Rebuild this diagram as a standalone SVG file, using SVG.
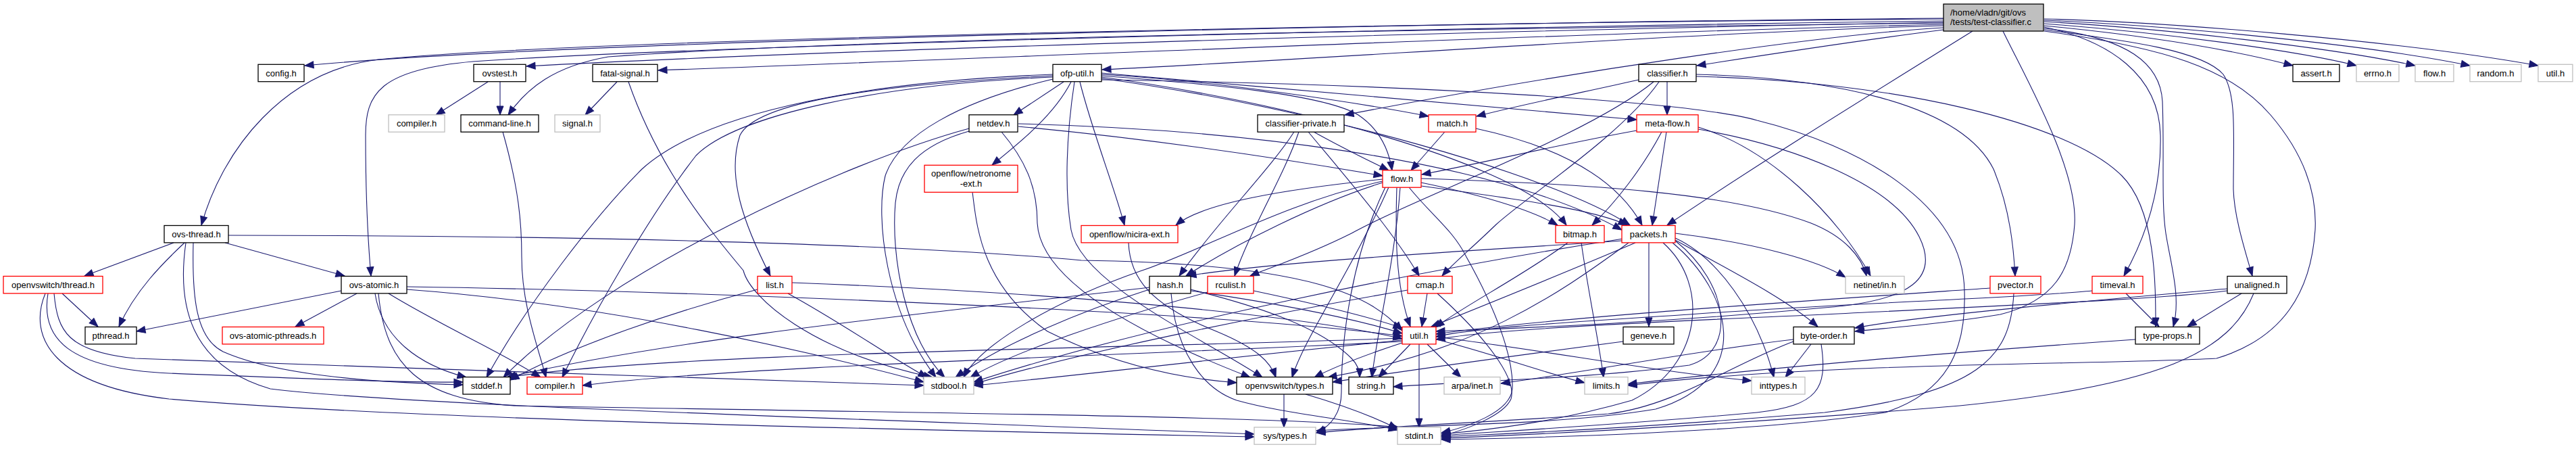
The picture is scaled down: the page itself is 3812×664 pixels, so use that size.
<svg xmlns="http://www.w3.org/2000/svg" width="3812" height="664" viewBox="0 0 3812 664">
<defs>
<style>
.n rect{fill:#fff;stroke-width:1.3}
.b rect{stroke:#000}
.g rect{stroke:#bfbfbf}
.r rect{stroke:#f00}
text{font-family:"Liberation Sans",Arial,Helvetica,sans-serif;font-size:13px;fill:#000;text-anchor:middle}
#edges path{fill:none;stroke:#191970;stroke-width:1.1;marker-end:url(#arr)}
</style>
<marker id="arr" markerUnits="userSpaceOnUse" markerWidth="14" markerHeight="11" refX="13" refY="5.5" orient="auto" overflow="visible"><path d="M0,0.5 L13,5.5 L0,10.5 z" fill="#191970" stroke="#191970" stroke-width="1"/></marker>
</defs>
<rect width="3812" height="664" fill="#fff"/>
<g id="edges">
<path d="M2876,27 C2300,32 900,55 451,97"/>
<path d="M2876,28 C2200,33 900,55 560,88 C420,105 330,220 298,333"/>
<path d="M2876,31 C2000,42 1000,70 700,91 C560,103 541,140 541,200 C541,270 543,340 549,408"/>
<path d="M2876,33 C2200,45 1200,75 779,98"/>
<path d="M2876,34 C2200,42 1300,55 900,84 C820,98 780,130 752,170"/>
<path d="M2876,36 C2300,50 1500,85 974,104"/>
<path d="M2876,38 C2500,48 2000,85 1631,103"/>
<path d="M2876,41 C2700,50 2300,110 1990,170"/>
<path d="M2876,44 C2750,60 2620,80 2511,97"/>
<path d="M2919,46 C2800,120 2620,230 2467,333"/>
<path d="M3025,38 C3200,55 3320,78 3393,97"/>
<path d="M3025,35 C3200,48 3400,75 3487,97"/>
<path d="M3025,32 C3200,42 3450,70 3574,97"/>
<path d="M3025,30 C3200,37 3500,65 3655,97"/>
<path d="M3025,28 C3200,32 3550,60 3756,97"/>
<path d="M3025,42 C3150,55 3197,95 3200,150 C3203,230 3198,300 3205,345 C3212,390 3228,440 3216,483"/>
<path d="M3025,44 C3150,60 3260,75 3290,110 C3310,140 3305,200 3305,280 C3306,320 3322,370 3333,408"/>
<path d="M3025,46 C3200,70 3300,100 3360,170 C3420,240 3428,300 3426,340 C3420,430 3380,500 3280,530 C3100,540 2700,535 2409,570"/>
<path d="M2964,46 C3000,120 3075,250 3070,332 C3065,400 3040,445 2960,465 C2870,480 2790,485 2745,490"/>
<path d="M3025,40 C3120,60 3195,110 3197,200 C3199,290 3170,360 3143,408"/>
<path d="M722,121 L645,170"/>
<path d="M740,121 L740,170"/>
<path d="M913,121 L866,170"/>
<path d="M930,121 C975,250 1050,340 1100,400 C1110,440 1200,520 1380,558"/>
<path d="M744,195 C768,280 772,330 772,380 C772,450 795,510 808,558"/>
<path d="M1574,121 L1500,170"/>
<path d="M1585,121 C1560,170 1510,210 1468,244"/>
<path d="M1598,121 C1615,190 1650,280 1664,333"/>
<path d="M1590,121 C1578,200 1575,280 1585,340 C1600,420 1780,500 1868,558"/>
<path d="M1630,112 C1800,125 1960,140 2010,170 C2040,190 2055,220 2060,252"/>
<path d="M1630,110 C1800,120 2000,150 2114,172"/>
<path d="M1630,108 C1900,130 2200,160 2422,177"/>
<path d="M1630,114 C1900,150 2250,240 2318,333"/>
<path d="M1630,116 C1950,160 2300,260 2412,333"/>
<path d="M1630,118 C2100,125 2500,150 2600,178 C2750,215 2905,300 2907,430 C2910,520 2880,580 2790,610 C2600,640 2250,648 2133,650"/>
<path d="M1558,112 C1300,125 1120,150 1095,200 C1075,260 1100,330 1140,408"/>
<path d="M1558,110 C1300,120 1050,160 950,250 C880,320 780,450 720,558"/>
<path d="M1558,114 C1300,125 1090,170 1030,230 C960,320 880,460 832,558"/>
<path d="M1558,117 C1420,150 1330,200 1310,260 C1295,320 1310,460 1385,558"/>
<path d="M1507,187 C1700,205 1900,235 2046,260"/>
<path d="M1507,183 C1800,190 2200,230 2400,340"/>
<path d="M1482,195 C1520,240 1535,280 1535,330 C1540,420 1700,500 1850,558"/>
<path d="M1434,190 C1250,240 900,400 745,558"/>
<path d="M1434,194 C1360,215 1330,250 1325,300 C1318,380 1340,500 1398,558"/>
<path d="M1439,284 C1445,330 1450,420 1550,490 C1650,540 1750,560 1830,566"/>
<path d="M1670,359 C1672,410 1700,450 1800,490 C1860,515 1880,535 1888,558"/>
<path d="M2467,121 L2467,170"/>
<path d="M2425,118 C2350,135 2250,155 2185,172"/>
<path d="M2455,121 C2400,200 2260,290 2214,332 C2180,365 2150,390 2134,408"/>
<path d="M2447,121 C2350,200 2100,290 2000,345 C1930,380 1880,395 1850,408"/>
<path d="M2510,110 C2700,115 2900,150 2950,250 C2975,310 2980,370 2982,408"/>
<path d="M2510,113 C2800,120 3060,180 3140,260 C3190,310 3190,420 3190,483"/>
<path d="M1944,195 C1980,215 2020,235 2055,252"/>
<path d="M1936,195 C1990,260 2060,340 2100,408"/>
<path d="M1915,195 C1880,250 1800,330 1745,408"/>
<path d="M1922,195 C1900,260 1850,340 1827,408"/>
<path d="M2138,195 L2088,252"/>
<path d="M2184,190 C2300,215 2390,260 2430,333"/>
<path d="M2422,193 C2300,215 2200,240 2104,258"/>
<path d="M2459,195 C2430,250 2390,300 2356,333"/>
<path d="M2466,195 L2445,333"/>
<path d="M2513,188 C2620,220 2720,320 2768,408"/>
<path d="M2513,191 C2650,215 2800,270 2840,350 C2870,410 2830,445 2700,455 C2450,478 2250,485 2125,490"/>
<path d="M2046,265 C1900,280 1780,300 1740,333"/>
<path d="M2103,270 C2200,290 2265,310 2305,333"/>
<path d="M2103,275 C2250,295 2360,310 2408,333"/>
<path d="M2046,270 C1950,300 1830,360 1755,408"/>
<path d="M2067,277 C2065,340 2064,420 2087,483"/>
<path d="M2072,277 C2065,380 2040,480 2030,558"/>
<path d="M2085,277 C2120,320 2150,340 2170,380 C2215,460 2240,530 2238,575 C2235,610 2170,632 2133,640"/>
<path d="M2046,268 C1900,300 1780,370 1690,400 C1560,445 1450,510 1426,558"/>
<path d="M2050,277 C2000,380 1985,500 1985,580 C1985,610 1970,630 1948,640"/>
<path d="M2103,264 C2350,272 2560,285 2680,330 C2730,350 2755,380 2762,408"/>
<path d="M2055,277 C2000,400 1930,500 1912,558"/>
<path d="M2440,359 L2440,483"/>
<path d="M2420,359 C2300,410 2200,450 2118,483"/>
<path d="M2400,356 C2200,370 1900,385 1757,408"/>
<path d="M2461,359 C2530,420 2520,540 2415,592 C2300,625 2200,636 2133,642"/>
<path d="M2479,356 C2560,420 2570,520 2500,540 C2350,560 2200,562 2062,572"/>
<path d="M2479,352 C2540,380 2600,460 2625,558"/>
<path d="M2479,345 C2600,360 2690,385 2731,410"/>
<path d="M2475,359 C2560,430 2600,560 2450,605 C2300,630 2100,628 1948,637"/>
<path d="M2410,359 C2300,440 2180,520 1965,558"/>
<path d="M2402,353 C2100,400 1700,480 1441,565"/>
<path d="M2479,355 C2560,400 2640,440 2690,483"/>
<path d="M2402,505 C2250,525 2100,545 1972,565"/>
<path d="M2320,359 C2250,410 2170,450 2124,484"/>
<path d="M2340,359 C2350,430 2365,500 2373,558"/>
<path d="M257,359 L125,408"/>
<path d="M273,359 C240,390 200,430 176,483"/>
<path d="M333,359 L510,408"/>
<path d="M338,348 C800,348 1300,358 1600,385 C1950,390 2030,440 2075,489"/>
<path d="M286,359 C284,440 290,500 330,520 C420,560 600,567 685,569"/>
<path d="M275,359 C262,450 280,540 400,575 C600,600 1300,620 1856,642"/>
<path d="M92,434 L145,483"/>
<path d="M80,434 C85,490 100,520 200,530 C600,545 1100,560 1367,570"/>
<path d="M71,434 C60,500 100,545 250,552 C450,560 600,566 685,565"/>
<path d="M67,434 C40,500 80,570 250,590 C600,620 1300,635 1856,646"/>
<path d="M505,430 L202,490"/>
<path d="M528,434 L437,483"/>
<path d="M575,434 C650,480 740,520 800,558"/>
<path d="M555,434 C565,500 620,540 690,558"/>
<path d="M602,424 C1000,430 1800,460 2075,497"/>
<path d="M602,428 C900,450 1200,520 1367,565"/>
<path d="M560,434 C570,540 620,590 760,600 C1300,610 1900,615 2070,632"/>
<path d="M1121,428 C1000,460 850,510 755,562"/>
<path d="M1172,418 C1500,430 1900,460 2075,501"/>
<path d="M1166,434 C1250,480 1320,530 1372,558"/>
<path d="M1701,425 C1400,460 1000,500 750,558"/>
<path d="M1701,428 C1600,460 1480,510 1414,558"/>
<path d="M1762,428 C1850,450 1950,480 2000,530 C2010,540 2012,550 2012,558"/>
<path d="M1762,430 C1900,450 2000,470 2075,493"/>
<path d="M1733,434 C1740,520 1780,575 1830,592 C1900,612 2000,620 2068,636"/>
<path d="M1787,432 C1650,470 1500,520 1436,558"/>
<path d="M1855,430 C1950,450 2030,470 2075,485"/>
<path d="M2112,434 L2104,483"/>
<path d="M2083,429 C1900,460 1600,520 1441,568"/>
<path d="M2127,434 C2200,500 2245,560 2236,590 C2225,615 2170,635 2133,645"/>
<path d="M2945,426 C2600,450 2300,470 2125,494"/>
<path d="M2980,434 C2975,530 2930,580 2700,610 C2400,635 2250,640 2133,646"/>
<path d="M3146,434 L3195,483"/>
<path d="M3096,430 C3000,440 2700,450 2500,465 C2300,478 2180,485 2125,498"/>
<path d="M3317,434 L3237,483"/>
<path d="M3296,427 C3150,440 2850,465 2745,485"/>
<path d="M3296,430 C3200,442 3000,450 2700,465 C2400,478 2200,488 2125,502"/>
<path d="M3335,434 C3300,520 3200,570 2900,600 C2600,625 2300,642 2133,648"/>
<path d="M3160,502 C2900,520 2600,545 2409,568"/>
<path d="M2680,509 L2642,558"/>
<path d="M2695,509 C2705,575 2690,600 2600,610 C2400,628 2220,638 2133,644"/>
<path d="M2654,502 C2500,520 2350,550 2221,567"/>
<path d="M2654,505 C2560,540 2480,600 2380,612 C2200,625 2050,630 1948,640"/>
<path d="M2100,509 L2100,632"/>
<path d="M2087,509 L2040,558"/>
<path d="M2112,509 L2162,558"/>
<path d="M2075,507 C2020,525 1980,540 1945,558"/>
<path d="M2125,502 C2200,520 2280,550 2345,566"/>
<path d="M2125,498 C2300,520 2450,550 2592,563"/>
<path d="M2075,500 C1700,515 1000,520 750,558"/>
<path d="M2075,503 C1800,530 1600,555 1441,570"/>
<path d="M2075,505 C1700,525 1100,540 862,570"/>
<path d="M1900,583 L1900,632"/>
<path d="M1932,583 C1990,600 2030,615 2068,634"/>
</g>
<g id="n_main" class="n b"><rect x="2876" y="6" width="148" height="40" style="fill:#bfbfbf"/><text x="2886" y="22.5" style="text-anchor:start">/home/vladn/git/ovs</text><text x="2886" y="37" style="text-anchor:start">/tests/test-classifier.c</text></g>
<g id="n_config" class="n b"><rect x="382" y="95.3" width="68" height="25.4"/><text x="416" y="112.6">config.h</text></g>
<g id="n_ovstest" class="n b"><rect x="701" y="95.3" width="77" height="25.4"/><text x="739.5" y="112.6">ovstest.h</text></g>
<g id="n_fatal" class="n b"><rect x="877" y="95.3" width="96" height="25.4"/><text x="925" y="112.6">fatal-signal.h</text></g>
<g id="n_ofputil" class="n b"><rect x="1558" y="95.3" width="72" height="25.4"/><text x="1594" y="112.6">ofp-util.h</text></g>
<g id="n_classifier" class="n b"><rect x="2425" y="95.3" width="85" height="25.4"/><text x="2467.5" y="112.6">classifier.h</text></g>
<g id="n_assert" class="n b"><rect x="3393" y="95.3" width="69" height="25.4"/><text x="3427.5" y="112.6">assert.h</text></g>
<g id="n_errno" class="n g"><rect x="3487" y="95.3" width="63" height="25.4"/><text x="3518.5" y="112.6">errno.h</text></g>
<g id="n_flowg" class="n g"><rect x="3574" y="95.3" width="57" height="25.4"/><text x="3602.5" y="112.6">flow.h</text></g>
<g id="n_random" class="n g"><rect x="3655" y="95.3" width="76" height="25.4"/><text x="3693" y="112.6">random.h</text></g>
<g id="n_utilg" class="n g"><rect x="3756" y="95.3" width="51" height="25.4"/><text x="3781.5" y="112.6">util.h</text></g>
<g id="n_compilerg" class="n g"><rect x="575" y="169.8" width="83" height="25.4"/><text x="616.5" y="187.1">compiler.h</text></g>
<g id="n_cmdline" class="n b"><rect x="682" y="169.8" width="115" height="25.4"/><text x="739.5" y="187.1">command-line.h</text></g>
<g id="n_signal" class="n g"><rect x="821" y="169.8" width="67" height="25.4"/><text x="854.5" y="187.1">signal.h</text></g>
<g id="n_netdev" class="n b"><rect x="1434" y="169.8" width="72" height="25.4"/><text x="1470" y="187.1">netdev.h</text></g>
<g id="n_clpriv" class="n b"><rect x="1861" y="169.8" width="128" height="25.4"/><text x="1925" y="187.1">classifier-private.h</text></g>
<g id="n_match" class="n r"><rect x="2114" y="169.8" width="70" height="25.4"/><text x="2149" y="187.1">match.h</text></g>
<g id="n_metaflow" class="n r"><rect x="2422" y="169.8" width="91" height="25.4"/><text x="2467.5" y="187.1">meta-flow.h</text></g>
<g id="n_netronome" class="n r"><rect x="1368" y="244.3" width="138" height="40"/><text x="1437" y="261">openflow/netronome</text><text x="1437" y="275.5">-ext.h</text></g>
<g id="n_flow" class="n r"><rect x="2046" y="251.8" width="57" height="25.4"/><text x="2074.5" y="269.1">flow.h</text></g>
<g id="n_ovsthread" class="n b"><rect x="243" y="333.5" width="95" height="25.4"/><text x="290.5" y="350.8">ovs-thread.h</text></g>
<g id="n_nicira" class="n r"><rect x="1600" y="333.5" width="143" height="25.4"/><text x="1671.5" y="350.8">openflow/nicira-ext.h</text></g>
<g id="n_bitmap" class="n r"><rect x="2302" y="333.5" width="72" height="25.4"/><text x="2338" y="350.8">bitmap.h</text></g>
<g id="n_packets" class="n r"><rect x="2400" y="333.5" width="79" height="25.4"/><text x="2439.5" y="350.8">packets.h</text></g>
<g id="n_ovsthr" class="n r"><rect x="5" y="408.5" width="147" height="25.4"/><text x="78.5" y="425.8">openvswitch/thread.h</text></g>
<g id="n_ovsatomic" class="n b"><rect x="505" y="408.5" width="97" height="25.4"/><text x="553.5" y="425.8">ovs-atomic.h</text></g>
<g id="n_list" class="n r"><rect x="1121" y="408.5" width="51" height="25.4"/><text x="1146.5" y="425.8">list.h</text></g>
<g id="n_hash" class="n b"><rect x="1701" y="408.5" width="61" height="25.4"/><text x="1731.5" y="425.8">hash.h</text></g>
<g id="n_rculist" class="n r"><rect x="1787" y="408.5" width="68" height="25.4"/><text x="1821" y="425.8">rculist.h</text></g>
<g id="n_cmap" class="n r"><rect x="2083" y="408.5" width="66" height="25.4"/><text x="2116" y="425.8">cmap.h</text></g>
<g id="n_netinet" class="n g"><rect x="2731" y="408.5" width="87" height="25.4"/><text x="2774.5" y="425.8">netinet/in.h</text></g>
<g id="n_pvector" class="n r"><rect x="2945" y="408.5" width="75" height="25.4"/><text x="2982.5" y="425.8">pvector.h</text></g>
<g id="n_timeval" class="n r"><rect x="3096" y="408.5" width="75" height="25.4"/><text x="3133.5" y="425.8">timeval.h</text></g>
<g id="n_unaligned" class="n b"><rect x="3296" y="408.5" width="88" height="25.4"/><text x="3340" y="425.8">unaligned.h</text></g>
<g id="n_pthread" class="n b"><rect x="126" y="483.5" width="76" height="25.4"/><text x="164" y="500.8">pthread.h</text></g>
<g id="n_atomicpth" class="n r"><rect x="329" y="483.5" width="150" height="25.4"/><text x="404" y="500.8">ovs-atomic-pthreads.h</text></g>
<g id="n_util" class="n r"><rect x="2075" y="483.5" width="50" height="25.4"/><text x="2100" y="500.8">util.h</text></g>
<g id="n_geneve" class="n b"><rect x="2402" y="483.5" width="75" height="25.4"/><text x="2439.5" y="500.8">geneve.h</text></g>
<g id="n_byteorder" class="n b"><rect x="2654" y="483.5" width="90" height="25.4"/><text x="2699" y="500.8">byte-order.h</text></g>
<g id="n_typeprops" class="n b"><rect x="3160" y="483.5" width="95" height="25.4"/><text x="3207.5" y="500.8">type-props.h</text></g>
<g id="n_stddef" class="n b"><rect x="685" y="557.6" width="70" height="25.4"/><text x="720" y="574.9">stddef.h</text></g>
<g id="n_compiler" class="n r"><rect x="780" y="557.6" width="82" height="25.4"/><text x="821" y="574.9">compiler.h</text></g>
<g id="n_stdbool" class="n g"><rect x="1367" y="557.6" width="74" height="25.4"/><text x="1404" y="574.9">stdbool.h</text></g>
<g id="n_ovstypes" class="n b"><rect x="1830" y="557.6" width="142" height="25.4"/><text x="1901" y="574.9">openvswitch/types.h</text></g>
<g id="n_string" class="n b"><rect x="1996" y="557.6" width="66" height="25.4"/><text x="2029" y="574.9">string.h</text></g>
<g id="n_arpainet" class="n g"><rect x="2137" y="557.6" width="83" height="25.4"/><text x="2178.5" y="574.9">arpa/inet.h</text></g>
<g id="n_limits" class="n g"><rect x="2345" y="557.6" width="64" height="25.4"/><text x="2377" y="574.9">limits.h</text></g>
<g id="n_inttypes" class="n g"><rect x="2592" y="557.6" width="79" height="25.4"/><text x="2631.5" y="574.9">inttypes.h</text></g>
<g id="n_systypes" class="n g"><rect x="1856" y="631.8" width="91" height="25.4"/><text x="1901.5" y="649.1">sys/types.h</text></g>
<g id="n_stdint" class="n g"><rect x="2068" y="631.8" width="64" height="25.4"/><text x="2100" y="649.1">stdint.h</text></g>
</svg>
